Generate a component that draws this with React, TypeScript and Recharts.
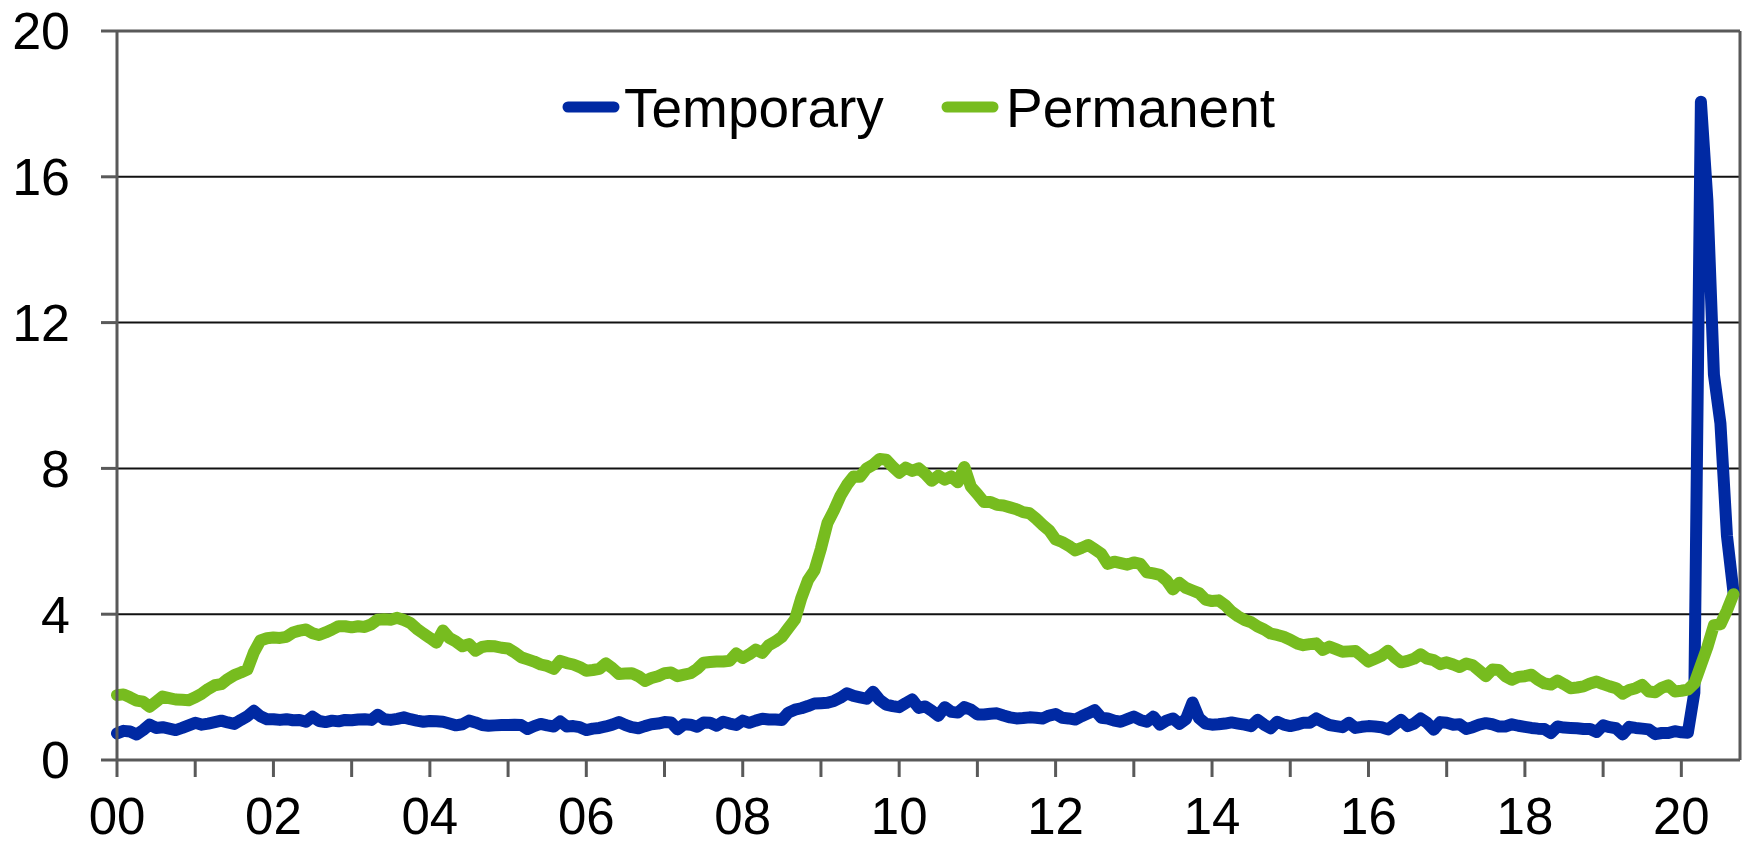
import React from "react";
import { LineChart, Line, XAxis, YAxis, CartesianGrid, ReferenceLine } from "recharts";

// Monthly, Jan 2000 – Sep 2020 (millions)
const temporary: number[] = [
  // 2000
  0.73, 0.80, 0.78, 0.70, 0.82, 0.97, 0.88, 0.90, 0.86, 0.82, 0.88, 0.95,
  // 2001
  1.02, 0.97, 1.00, 1.04, 1.08, 1.03, 0.99, 1.10, 1.20, 1.35, 1.20, 1.12,
  // 2002
  1.12, 1.10, 1.12, 1.09, 1.10, 1.05, 1.19, 1.07, 1.04, 1.08, 1.06, 1.10,
  // 2003
  1.09, 1.11, 1.12, 1.10, 1.24, 1.12, 1.10, 1.13, 1.17, 1.12, 1.08, 1.05,
  // 2004
  1.07, 1.06, 1.05, 1.00, 0.95, 0.98, 1.08, 1.03, 0.96, 0.94, 0.95, 0.96,
  // 2005
  0.96, 0.97, 0.96, 0.85, 0.93, 0.99, 0.95, 0.92, 1.06, 0.92, 0.93, 0.90,
  // 2006
  0.82, 0.86, 0.88, 0.92, 0.97, 1.04, 0.96, 0.90, 0.87, 0.93, 0.98, 1.00,
  // 2007
  1.04, 1.03, 0.84, 0.98, 0.97, 0.91, 1.03, 1.02, 0.94, 1.05, 1.00, 0.96,
  // 2008
  1.08, 1.02, 1.08, 1.13, 1.11, 1.11, 1.10, 1.30, 1.38, 1.42, 1.48, 1.55,
  // 2009
  1.56, 1.57, 1.62, 1.71, 1.83, 1.76, 1.72, 1.68, 1.87, 1.65, 1.52, 1.48,
  // 2010
  1.45, 1.56, 1.66, 1.43, 1.47, 1.35, 1.21, 1.45, 1.32, 1.30, 1.45, 1.38,
  // 2011
  1.25, 1.25, 1.27, 1.28, 1.22, 1.17, 1.14, 1.15, 1.17, 1.16, 1.14, 1.22,
  // 2012
  1.26, 1.16, 1.14, 1.11, 1.20, 1.28, 1.37, 1.16, 1.14, 1.08, 1.05, 1.12,
  // 2013
  1.19, 1.10, 1.05, 1.19, 0.97, 1.08, 1.14, 0.99, 1.12, 1.58, 1.15, 1.00,
  // 2014
  0.97, 0.98, 1.00, 1.03, 1.00, 0.97, 0.93, 1.10, 0.97, 0.87, 1.05, 0.97,
  // 2015
  0.93, 0.97, 1.02, 1.02, 1.14, 1.04, 0.96, 0.93, 0.90, 1.02, 0.88, 0.91,
  // 2016
  0.93, 0.92, 0.90, 0.84, 0.97, 1.10, 0.93, 1.00, 1.14, 1.02, 0.83, 1.04,
  // 2017
  1.02, 0.97, 0.98, 0.85, 0.90, 0.97, 1.01, 0.98, 0.92, 0.92, 0.98, 0.94,
  // 2018
  0.91, 0.88, 0.86, 0.85, 0.74, 0.92, 0.89, 0.88, 0.87, 0.85, 0.85, 0.77,
  // 2019
  0.95, 0.90, 0.87, 0.70, 0.91, 0.88, 0.86, 0.84, 0.71, 0.74, 0.74, 0.79,
  // 2020
  0.76, 0.75, 1.85, 18.06, 15.34, 10.57, 9.23, 6.15, 4.60,
];

const permanent: number[] = [
  // 2000
  1.78, 1.80, 1.72, 1.63, 1.60, 1.46, 1.60, 1.74, 1.70, 1.66, 1.65, 1.64,
  // 2001
  1.72, 1.82, 1.95, 2.05, 2.08, 2.22, 2.33, 2.40, 2.48, 2.95, 3.28, 3.34,
  // 2002
  3.36, 3.35, 3.38, 3.50, 3.55, 3.58, 3.48, 3.43, 3.50, 3.58, 3.67, 3.67,
  // 2003
  3.64, 3.67, 3.65, 3.72, 3.85, 3.86, 3.85, 3.90, 3.84, 3.76, 3.60, 3.47,
  // 2004
  3.35, 3.22, 3.55, 3.35, 3.25, 3.12, 3.18, 3.00, 3.10, 3.13, 3.12, 3.08,
  // 2005
  3.06, 2.95, 2.82, 2.76, 2.70, 2.62, 2.58, 2.50, 2.72, 2.66, 2.62, 2.55,
  // 2006
  2.45, 2.47, 2.50, 2.65, 2.52, 2.36, 2.37, 2.38, 2.30, 2.17, 2.25, 2.30,
  // 2007
  2.38, 2.40, 2.30, 2.34, 2.38, 2.50, 2.67, 2.69, 2.70, 2.70, 2.72, 2.92,
  // 2008
  2.80, 2.90, 3.03, 2.94, 3.15, 3.25, 3.38, 3.62, 3.85, 4.45, 4.93, 5.20,
  // 2009
  5.80, 6.50, 6.85, 7.25, 7.55, 7.78, 7.77, 8.00, 8.10, 8.26, 8.24, 8.05,
  // 2010
  7.88, 8.02, 7.93, 8.00, 7.85, 7.66, 7.80, 7.69, 7.78, 7.62, 8.04, 7.50,
  // 2011
  7.30, 7.08, 7.08, 7.00, 6.98, 6.93, 6.88, 6.80, 6.77, 6.62, 6.45, 6.30,
  // 2012
  6.05, 5.98, 5.88, 5.75, 5.82, 5.90, 5.78, 5.66, 5.38, 5.44, 5.40, 5.36,
  // 2013
  5.42, 5.38, 5.15, 5.12, 5.08, 4.93, 4.68, 4.86, 4.72, 4.65, 4.58, 4.40,
  // 2014
  4.36, 4.38, 4.25, 4.07, 3.94, 3.84, 3.78, 3.66, 3.58, 3.47, 3.43, 3.38,
  // 2015
  3.30, 3.20, 3.15, 3.18, 3.20, 3.02, 3.11, 3.04, 2.97, 2.98, 2.99, 2.85,
  // 2016
  2.70, 2.78, 2.86, 3.00, 2.82, 2.68, 2.72, 2.78, 2.90, 2.78, 2.74, 2.63,
  // 2017
  2.68, 2.62, 2.55, 2.65, 2.60, 2.45, 2.30, 2.48, 2.47, 2.30, 2.20, 2.28,
  // 2018
  2.30, 2.34, 2.20, 2.10, 2.07, 2.18, 2.08, 1.97, 1.99, 2.02, 2.10, 2.15,
  // 2019
  2.08, 2.02, 1.97, 1.82, 1.92, 1.97, 2.06, 1.88, 1.86, 1.98, 2.05, 1.88,
  // 2020
  1.90, 1.93, 2.10, 2.60, 3.10, 3.70, 3.72, 4.10, 4.55,
];

const yearTicks: number[] = [0, 12, 24, 36, 48, 60, 72, 84, 96, 108, 120, 132, 144, 156, 168, 180, 192, 204, 216, 228, 240];
const yearLabels: string[] = ["00", "", "02", "", "04", "", "06", "", "08", "", "10", "", "12", "", "14", "", "16", "", "18", "", "20"];
const yTicks: number[] = [0, 4, 8, 12, 16, 20];
const seriesNames: string[] = ["Temporary", "Permanent"];

const BLUE = "#0029a3";
const GREEN = "#77bc1f";
const AXIS = "#595959";
const FONT = "'Liberation Sans', Arial, sans-serif";

const data = temporary.map((t, i) => ({ m: i, temporary: t, permanent: permanent[i] }));

const xFmt = (v: number) => {
  const idx = yearTicks.indexOf(v);
  return idx >= 0 ? yearLabels[idx] : "";
};

export default function App() {
  return (
    <div style={{ position: "absolute", left: 0, top: 0, width: 1748, height: 846, background: "#fff", fontFamily: FONT }}>
      <LineChart width={1748} height={846} data={data} margin={{ top: 31, right: 8, bottom: 0, left: 0 }}>
        <CartesianGrid horizontal={true} vertical={false} stroke="#111" strokeWidth={2} horizontalValues={[4, 8, 12, 16]} />
        <XAxis
          dataKey="m"
          type="number"
          domain={[0, 249]}
          ticks={yearTicks}
          interval={0}
          tickFormatter={xFmt}
          height={86}
          tickSize={17}
          tickMargin={21}
          axisLine={{ stroke: AXIS, strokeWidth: 3 }}
          tickLine={{ stroke: AXIS, strokeWidth: 3 }}
          tick={{ fill: "#000", fontSize: 51, fontFamily: FONT }}
        />
        <YAxis
          type="number"
          domain={[0, 20]}
          ticks={yTicks}
          interval={0}
          width={117}
          tickSize={16}
          tickMargin={31}
          axisLine={{ stroke: AXIS, strokeWidth: 3 }}
          tickLine={{ stroke: AXIS, strokeWidth: 3 }}
          tick={{ fill: "#000", fontSize: 52, fontFamily: FONT }}
        />
        <ReferenceLine y={20} stroke={AXIS} strokeWidth={3} />
        <ReferenceLine x={249} stroke={AXIS} strokeWidth={3} />
        <Line
          type="linear"
          dataKey="temporary"
          name={seriesNames[0]}
          stroke={BLUE}
          strokeWidth={12}
          strokeLinejoin="round"
          strokeLinecap="round"
          dot={false}
          isAnimationActive={false}
        />
        <Line
          type="linear"
          dataKey="permanent"
          name={seriesNames[1]}
          stroke={GREEN}
          strokeWidth={12}
          strokeLinejoin="round"
          strokeLinecap="round"
          dot={false}
          isAnimationActive={false}
        />
      </LineChart>
      <svg width={1748} height={150} style={{ position: "absolute", left: 0, top: 0, pointerEvents: "none" }}>
        <line x1={568} y1={107} x2={614} y2={107} stroke={BLUE} strokeWidth={11} strokeLinecap="round" />
        <text x={624} y={127} fontSize={55} fontFamily={FONT} fill="#000">
          {seriesNames[0]}
        </text>
        <line x1={947} y1={107} x2={993} y2={107} stroke={GREEN} strokeWidth={11} strokeLinecap="round" />
        <text x={1006} y={127} fontSize={55} fontFamily={FONT} fill="#000">
          {seriesNames[1]}
        </text>
      </svg>
    </div>
  );
}
